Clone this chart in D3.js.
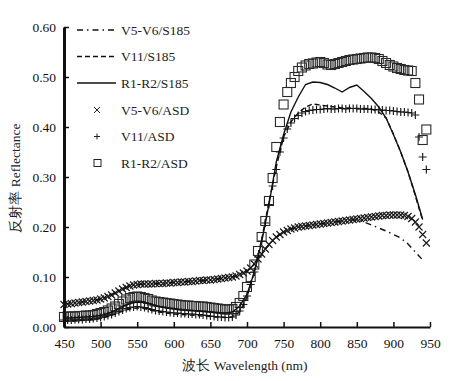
<!DOCTYPE html>
<html><head><meta charset="utf-8">
<script src="https://cdn.jsdelivr.net/npm/d3@7"></script>
<style>body{margin:0;background:#fff}svg{display:block}</style>
</head><body>
<svg id="c" width="464" height="381"></svg>
<script>
// ---- data ----
const wlASD = d3.range(450, 950, 5);   // 450..945 nm
const wlS185 = d3.range(450, 950, 10); // 450..940 nm

const v56ASD = [.045,.046,.047,.048,.049,.050,.051,.052,.053,.054,
 .056,.058,.061,.064,.068,.072,.076,.079,.082,.084,
 .085,.086,.086,.086,.086,.087,.087,.087,.088,.088,
 .089,.089,.090,.090,.091,.091,.092,.093,.093,.094,
 .094,.095,.096,.097,.098,.099,.100,.102,.105,.108,
 .112,.118,.126,.136,.146,.156,.165,.173,.180,.185,
 .190,.193,.196,.198,.200,.201,.202,.203,.204,.205,
 .206,.207,.208,.209,.210,.211,.212,.213,.214,.215,
 .216,.217,.218,.219,.220,.221,.222,.223,.223,.224,
 .224,.224,.224,.223,.221,.217,.210,.200,.185,.168];

const v11ASD = [.014,.014,.014,.015,.015,.015,.016,.016,.017,.018,
 .019,.021,.023,.025,.028,.031,.034,.037,.039,.040,
 .041,.040,.039,.037,.035,.033,.032,.031,.030,.029,
 .028,.028,.027,.027,.026,.026,.025,.025,.024,.023,
 .022,.021,.020,.020,.019,.019,.020,.024,.032,.045,
 .062,.085,.110,.140,.172,.208,.245,.282,.315,.350,
 .378,.396,.408,.417,.423,.428,.431,.433,.434,.435,
 .435,.436,.437,.436,.436,.437,.437,.436,.437,.437,
 .437,.436,.436,.436,.435,.435,.434,.434,.433,.433,
 .432,.431,.430,.430,.429,.428,.424,.380,.340,.315];

const r12ASD = [.020,.021,.021,.021,.022,.022,.023,.023,.024,.026,
 .028,.030,.033,.037,.041,.046,.051,.055,.058,.060,
 .061,.060,.058,.056,.053,.051,.050,.049,.048,.047,
 .046,.045,.044,.043,.043,.042,.042,.041,.041,.040,
 .039,.038,.037,.036,.035,.035,.036,.040,.048,.062,
 .080,.100,.125,.152,.180,.212,.252,.298,.360,.410,
 .445,.470,.488,.500,.512,.519,.523,.526,.527,.529,
 .530,.528,.525,.524,.526,.528,.530,.532,.534,.535,
 .536,.537,.538,.539,.539,.538,.536,.532,.528,.524,
 .521,.518,.516,.514,.513,.512,.488,.455,.374,.395];

const v56S185 = [.046,.047,.049,.051,.053,.056,.061,.068,.076,.082,
 .085,.086,.086,.087,.088,.089,.090,.091,.092,.093,
 .094,.096,.098,.100,.105,.112,.126,.146,.165,.180,
 .190,.196,.200,.202,.204,.206,.208,.210,.212,.214,
 .214,.210,.204,.198,.192,.185,.178,.166,.150,.134];

const v11S185 = [.012,.012,.013,.014,.015,.017,.021,.026,.032,.036,
 .038,.037,.033,.030,.028,.026,.025,.024,.023,.022,
 .021,.020,.019,.020,.030,.060,.110,.175,.250,.320,
 .380,.410,.428,.440,.446,.444,.442,.440,.438,.438,
 .437,.437,.436,.430,.418,.386,.350,.310,.262,.213];

const r12S185 = [.018,.018,.019,.020,.021,.023,.027,.033,.041,.047,
 .050,.049,.045,.041,.038,.036,.034,.033,.032,.031,
 .030,.029,.028,.030,.042,.065,.110,.170,.245,.330,
 .385,.430,.460,.485,.490,.489,.485,.478,.470,.479,
 .484,.471,.457,.440,.418,.385,.350,.310,.265,.215];

const yTicks = [0, 0.1, 0.2, 0.3, 0.4, 0.5, 0.6];
const xTicks = [450, 500, 550, 600, 650, 700, 750, 800, 850, 900, 950];
const legendLabels = ["V5-V6/S185","V11/S185","R1-R2/S185","V5-V6/ASD","V11/ASD","R1-R2/ASD"];

// ---- drawing ----
const svg = d3.select("#c");
const x = d3.scaleLinear().domain([450, 950]).range([64, 430]);
const y = d3.scaleLinear().domain([0, 0.6]).range([327, 27]);
const font = "'Liberation Serif','Times New Roman',serif";
const ink = "#111";

// markers
const mk = {
  cross: (g, cx, cy) => g.append("path").attr("d", `M${cx-3.5},${cy-3.5}L${cx+3.5},${cy+3.5}M${cx-3.5},${cy+3.5}L${cx+3.5},${cy-3.5}`),
  plus: (g, cx, cy) => g.append("path").attr("d", `M${cx-4},${cy}L${cx+4},${cy}M${cx},${cy-4}L${cx},${cy+4}`),
  square: (g, cx, cy) => g.append("rect").attr("x", cx-4.5).attr("y", cy-4.5).attr("width", 9).attr("height", 9).attr("fill", "none")
};
function drawMarkers(vals, type, color, w) {
  const g = svg.append("g").attr("stroke", color).attr("stroke-width", w).attr("fill", "none");
  vals.forEach((v, i) => mk[type](g, x(wlASD[i]), y(v)));
}
drawMarkers(v56ASD, "cross", "#1a1a1a", 1.15);
drawMarkers(v11ASD, "plus", "#1a1a1a", 1.15);
drawMarkers(r12ASD, "square", "#2a2a2a", 1.1);

const line = d3.line().x(d => x(d[0])).y(d => y(d[1]));
function drawLine(vals, dash) {
  svg.append("path").datum(vals.map((v, i) => [wlS185[i], v]))
    .attr("d", line).attr("fill", "none").attr("stroke", ink).attr("stroke-width", 1.4)
    .attr("stroke-dasharray", dash);
}
drawLine(v56S185, "6,4,1.5,4");
drawLine(v11S185, "5,3");
drawLine(r12S185, null);

// axes
const ya = svg.append("g").attr("transform", "translate(64,0)")
  .call(d3.axisLeft(y).tickValues(yTicks).tickFormat(d3.format(".2f")).tickSizeInner(-5).tickSizeOuter(0).tickPadding(8));
ya.select(".domain").attr("stroke", ink).attr("stroke-width", 3);
ya.selectAll(".tick line").attr("stroke", ink).attr("stroke-width", 1.5);
ya.selectAll("text").attr("font-family", font).attr("font-size", 13.5).attr("fill", ink);

const xa = svg.append("g").attr("transform", "translate(0,327)")
  .call(d3.axisBottom(x).tickValues(xTicks).tickFormat(d3.format("d")).tickSizeInner(-5).tickSizeOuter(0).tickPadding(11));
xa.select(".domain").attr("stroke", ink).attr("stroke-width", 2);
xa.selectAll(".tick line").attr("stroke", ink).attr("stroke-width", 1.5);
xa.selectAll("text").attr("font-family", font).attr("font-size", 13.5).attr("fill", ink);

// axis titles
svg.append("text").attr("x", 245).attr("y", 370).attr("text-anchor", "middle")
  .attr("font-family", font).attr("font-size", 13.5).attr("fill", "#222")
  .text("波长 Wavelength (nm)");
svg.append("text").attr("transform", "translate(20,178) rotate(-90)").attr("text-anchor", "middle")
  .attr("font-family", font).attr("font-size", 13.5).attr("fill", "#222")
  .text("反射率 Reflectance");

// legend
const rows = [30, 56.5, 83, 110, 136.5, 163];
const leg = svg.append("g");
const dashes = ["6,4,1.5,4", "5,3", null];
legendLabels.forEach((lab, i) => {
  const ry = rows[i];
  if (i < 3) {
    leg.append("line").attr("x1", 77).attr("x2", 116).attr("y1", ry).attr("y2", ry)
      .attr("stroke", ink).attr("stroke-width", 1.4).attr("stroke-dasharray", dashes[i]);
  } else {
    const g = leg.append("g").attr("stroke", "#222").attr("fill", "none").attr("stroke-width", 1);
    if (i === 3) g.append("path").attr("d", `M94,${ry-3}L100,${ry+3}M94,${ry+3}L100,${ry-3}`);
    if (i === 4) g.append("path").attr("d", `M94,${ry}L100,${ry}M97,${ry-3}L97,${ry+3}`);
    if (i === 5) g.append("rect").attr("x", 94).attr("y", ry-3.5).attr("width", 7).attr("height", 7);
  }
  leg.append("text").attr("x", 121).attr("y", ry + 4.5).attr("font-family", font)
    .attr("font-size", 13.5).attr("fill", "#222").text(lab);
});
</script>
</body></html>
